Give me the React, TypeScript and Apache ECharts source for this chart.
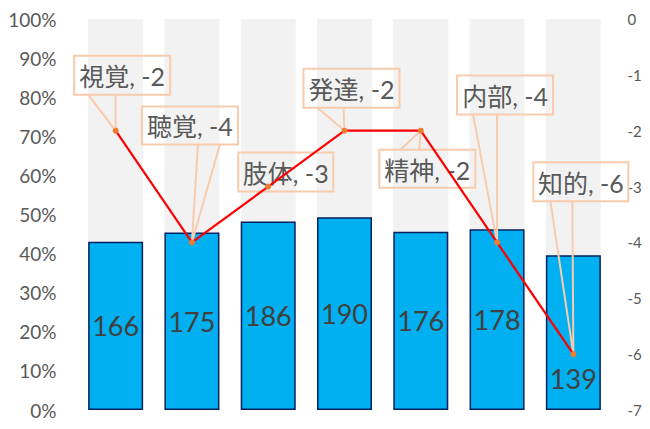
import { useEffect, useRef } from 'react';
import * as echarts from 'echarts';

// カテゴリと値
const categories = ['視覚', '聴覚', '肢体', '発達', '精神', '内部', '知的'];
const counts = [166, 175, 186, 190, 176, 178, 139];
const shares = [0.43, 0.454, 0.482, 0.493, 0.456, 0.462, 0.396];
const background = [1, 1, 1, 1, 1, 1, 1];
const scores = [-2, -4, -3, -2, -2, -4, -6];

// 吹き出しの配置（点からの相対位置）
const callouts = [
  { dx: -41.5, dy: -75, w: 96, h: 39, b1: -27.5, b2: 0, edge: 'bottom' },
  { dx: -50, dy: -136, w: 96, h: 38, b1: 6, b2: 28, edge: 'bottom' },
  { dx: -30, dy: -34, w: 95, h: 39, b1: 0, b2: 0, edge: 'none' },
  { dx: -41, dy: -62, w: 96, h: 39, b1: -27, b2: -1, edge: 'bottom' },
  { dx: -41.5, dy: 19, w: 96, h: 38, b1: -20.5, b2: -1.5, edge: 'top' },
  { dx: -40, dy: -167, w: 96, h: 39, b1: -24, b2: 0, edge: 'bottom' },
  { dx: -40, dy: -192, w: 95, h: 39, b1: -23, b2: -1, edge: 'bottom' },
];

const FONT = 'Lato, "Noto Sans CJK JP", sans-serif';
const CALLOUT_BORDER = '#f8cbad';

const App = () => {
  const chartRef = useRef<HTMLDivElement>(null);

  useEffect(() => {
    if (!chartRef.current) return;
    const chart = echarts.init(chartRef.current, undefined, { renderer: 'svg' });

    const option: echarts.EChartsOption = {
      animation: false,
      grid: { left: 77.5, right: 38.5, top: 19, bottom: 19 },
      xAxis: {
        type: 'category',
        data: categories,
        axisLine: { show: false },
        axisTick: { show: false },
        axisLabel: { show: false },
      },
      yAxis: [
        {
          type: 'value',
          min: 0,
          max: 1,
          interval: 0.1,
          splitLine: { show: false },
          axisLabel: {
            formatter: (v: number) => `${Math.round(v * 100)}%`,
            color: '#595959',
            fontSize: 19,
            fontFamily: FONT,
            margin: 21,
          },
        },
        {
          type: 'value',
          min: -7,
          max: 0,
          interval: 1,
          splitLine: { show: false },
          axisLabel: {
            color: '#595959',
            fontSize: 15,
            fontFamily: FONT,
            margin: 16,
          },
        },
      ],
      series: [
        {
          type: 'bar',
          data: background,
          barWidth: 55,
          barGap: '-100%',
          itemStyle: { color: '#f2f2f2' },
          silent: true,
          z: 1,
        },
        {
          type: 'bar',
          data: shares.map((v, i) => ({
            value: v,
            label: i === 6 ? { offset: [0, 46] } : undefined,
          })),
          barWidth: 55,
          itemStyle: { color: '#00b0f0', borderColor: '#002060', borderWidth: 1.5 },
          label: {
            show: true,
            position: 'inside',
            formatter: (p: any) => String(counts[p.dataIndex]),
            color: '#404040',
            fontSize: 27,
            fontFamily: FONT,
          },
          z: 2,
        },
        {
          type: 'custom',
          yAxisIndex: 1,
          data: scores.map((v, i) => [i, v]),
          encode: { x: 0, y: 1 },
          z: 3,
          renderItem: (params: any, api: any) => {
            const i = params.dataIndex;
            const c = callouts[i];
            const pt = api.coord([api.value(0), api.value(1)]);
            const bx = pt[0] + c.dx;
            const by = pt[1] + c.dy;
            const children: any[] = [
              {
                type: 'rect',
                shape: { x: bx, y: by, width: c.w, height: c.h },
                style: { fill: 'transparent', stroke: CALLOUT_BORDER, lineWidth: 2 },
              },
              {
                type: 'text',
                x: bx + c.w / 2,
                y: by + c.h / 2 + 1,
                style: {
                  text: `${categories[i]}, ${scores[i]}`,
                  fill: '#595959',
                  fontSize: 25,
                  fontFamily: FONT,
                  align: 'center',
                  verticalAlign: 'middle',
                },
              },
            ];
            if (c.edge !== 'none') {
              const ey = c.edge === 'bottom' ? by + c.h : by;
              children.unshift({
                type: 'polyline',
                shape: {
                  points: [
                    [pt[0] + c.b1, ey],
                    [pt[0], pt[1]],
                    [pt[0] + c.b2, ey],
                  ],
                },
                style: { fill: 'none', stroke: CALLOUT_BORDER, lineWidth: 2 },
              });
            }
            return { type: 'group', children };
          },
        },
        {
          type: 'line',
          yAxisIndex: 1,
          data: scores,
          symbol: 'circle',
          symbolSize: 6,
          lineStyle: { color: '#ff0000', width: 2.2 },
          itemStyle: { color: '#ed7d31' },
          z: 4,
        },
      ],
    };

    chart.setOption(option);
    return () => {
      chart.dispose();
    };
  }, []);

  return (
    <div
      ref={chartRef}
      style={{ position: 'fixed', left: 0, top: 0, width: 650, height: 429, background: '#fff' }}
    />
  );
};

export default App;
